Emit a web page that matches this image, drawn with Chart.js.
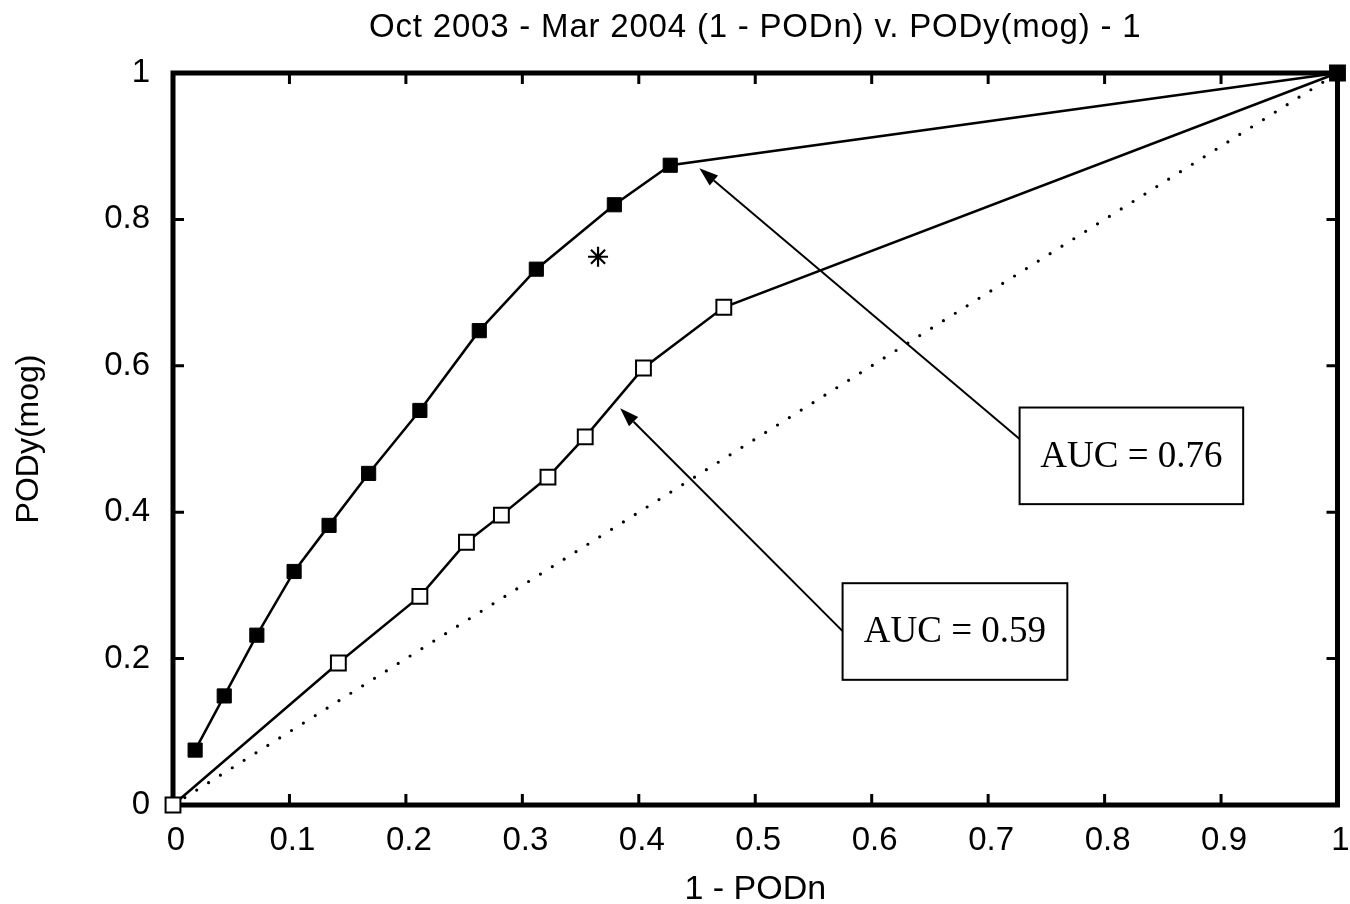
<!DOCTYPE html>
<html>
<head>
<meta charset="utf-8">
<script src="https://cdn.jsdelivr.net/npm/chart.js@4.4.1/dist/chart.umd.min.js"></script>
<style>
  body { margin: 0; background: #fff; }
</style>
</head>
<body>
<canvas id="rocChart" width="1350" height="904"></canvas>
<script>
// ROC points (x = 1 - PODn, y = PODy(mog))
var podnFilled = [0.019, 0.044, 0.072, 0.104, 0.134, 0.168, 0.212, 0.263, 0.312, 0.379, 0.427, 1]
var podyFilled = [0.075, 0.149, 0.232, 0.319, 0.382, 0.453, 0.539, 0.648, 0.732, 0.820, 0.874, 1]
var podnOpen = [0, 0.142, 0.212, 0.252, 0.282, 0.322, 0.354, 0.404, 0.473, 1]
var podyOpen = [0, 0.194, 0.285, 0.359, 0.396, 0.448, 0.503, 0.597, 0.680, 1]
var starX = [0.365]
var starY = [0.749]
var diagX = [0, 1]
var diagY = [0, 1]

var xTicks = [0, 0.1, 0.2, 0.3, 0.4, 0.5, 0.6, 0.7, 0.8, 0.9, 1]
var xTickLabels = ['0', '0.1', '0.2', '0.3', '0.4', '0.5', '0.6', '0.7', '0.8', '0.9', '1']
var yTicks = [0, 0.2, 0.4, 0.6, 0.8, 1]
var yTickLabels = ['0', '0.2', '0.4', '0.6', '0.8', '1']

var chartTitle = 'Oct 2003 - Mar 2004 (1 - PODn) v. PODy(mog) - 1'
var xTitle = '1 - PODn'
var yTitle = 'PODy(mog)'
var aucText = ['AUC = 0.76', 'AUC = 0.59']

function pairs(xs, ys) {
    return xs.map((x, i) => ({ x: x, y: ys[i] }))
}

// annotation boxes + arrows, all in data units
var notes = [
    { text: aucText[0], box: [0.727, 0.543, 0.919, 0.411], from: [0.727, 0.500], to: [0.452, 0.870] },
    { text: aucText[1], box: [0.575, 0.303, 0.768, 0.171], from: [0.575, 0.2375], to: [0.384, 0.542] }
]

var sansFont = 'Liberation Sans'

var framePlugin = {
    id: 'frame',
    beforeDraw(chart) {
        var ctx = chart.ctx, a = chart.chartArea
        ctx.save()
        ctx.fillStyle = '#000'
        ctx.font = '33px "' + sansFont + '"'
        ctx.letterSpacing = '0.8px'
        ctx.textAlign = 'center'
        ctx.textBaseline = 'middle'
        ctx.fillText(chartTitle, (a.left + a.right) / 2, 28)
        ctx.restore()
    },
    beforeDatasetsDraw(chart) {
        var ctx = chart.ctx, a = chart.chartArea
        var xs = chart.scales.x, ys = chart.scales.y
        ctx.save()
        ctx.strokeStyle = '#000'
        ctx.lineWidth = 3
        ctx.beginPath()
        xTicks.forEach(v => {
            var px = xs.getPixelForValue(v)
            ctx.moveTo(px, a.bottom); ctx.lineTo(px, a.bottom - 11)
            ctx.moveTo(px, a.top); ctx.lineTo(px, a.top + 11)
        })
        yTicks.forEach(v => {
            var py = ys.getPixelForValue(v)
            ctx.moveTo(a.left, py); ctx.lineTo(a.left + 11, py)
            ctx.moveTo(a.right, py); ctx.lineTo(a.right - 11, py)
        })
        ctx.stroke()
        ctx.lineWidth = 5
        ctx.strokeRect(a.left, a.top, a.right - a.left, a.bottom - a.top)
        ctx.restore()
    },
    afterDatasetsDraw(chart) {
        var ctx = chart.ctx
        var xs = chart.scales.x, ys = chart.scales.y
        ctx.save()
        notes.forEach(n => {
            var x1 = xs.getPixelForValue(n.from[0]), y1 = ys.getPixelForValue(n.from[1])
            var x2 = xs.getPixelForValue(n.to[0]), y2 = ys.getPixelForValue(n.to[1])
            var ang = Math.atan2(y2 - y1, x2 - x1)
            var headLen = 19, headW = 6.5
            var bx = x2 - headLen * Math.cos(ang), by = y2 - headLen * Math.sin(ang)
            ctx.strokeStyle = '#000'
            ctx.lineWidth = 2
            ctx.beginPath()
            ctx.moveTo(x1, y1)
            ctx.lineTo(bx, by)
            ctx.stroke()
            ctx.fillStyle = '#000'
            ctx.beginPath()
            ctx.moveTo(x2, y2)
            ctx.lineTo(bx + headW * Math.sin(ang), by - headW * Math.cos(ang))
            ctx.lineTo(bx - headW * Math.sin(ang), by + headW * Math.cos(ang))
            ctx.closePath()
            ctx.fill()

            var l = xs.getPixelForValue(n.box[0]), t = ys.getPixelForValue(n.box[1])
            var r = xs.getPixelForValue(n.box[2]), b = ys.getPixelForValue(n.box[3])
            ctx.fillStyle = '#fff'
            ctx.fillRect(l, t, r - l, b - t)
            ctx.lineWidth = 2
            ctx.strokeRect(l, t, r - l, b - t)
            ctx.fillStyle = '#000'
            ctx.font = '37px "Liberation Serif"'
            ctx.textAlign = 'center'
            ctx.textBaseline = 'middle'
            ctx.fillText(n.text, (l + r) / 2, (t + b) / 2 + 1)
        })
        ctx.restore()
    }
}

var tickFont = { family: sansFont, size: 33, lineHeight: 1 }

var ctx = document.getElementById('rocChart').getContext('2d')
var rocChart = new Chart(ctx, {
    type: 'scatter',
    data: {
        datasets: [
            {
                label: 'filled',
                data: pairs(podnFilled, podyFilled),
                showLine: true,
                borderColor: '#000',
                borderWidth: 2.5,
                pointStyle: 'rect',
                pointRadius: 10,
                pointBackgroundColor: '#000',
                pointBorderColor: '#000',
                pointBorderWidth: 1,
                clip: false
            },
            {
                label: 'open',
                data: pairs(podnOpen, podyOpen),
                showLine: true,
                borderColor: '#000',
                borderWidth: 2.5,
                pointStyle: 'rect',
                pointRadius: 10.5,
                pointBackgroundColor: '#fff',
                pointBorderColor: '#000',
                pointBorderWidth: 2,
                clip: false
            },
            {
                label: 'star',
                data: pairs(starX, starY),
                pointStyle: 'star',
                pointRadius: 10,
                pointBorderColor: '#000',
                pointBorderWidth: 2.2,
                clip: false
            },
            {
                label: 'chance',
                data: pairs(diagX, diagY),
                showLine: true,
                borderColor: '#000',
                borderWidth: 3.2,
                borderDash: [0, 14],
                borderCapStyle: 'round',
                pointRadius: 0,
                clip: false
            }
        ]
    },
    options: {
        responsive: false,
        animation: false,
        devicePixelRatio: 1,
        layout: { padding: { top: 73, right: 12, bottom: 0, left: 0 } },
        plugins: {
            legend: { display: false },
            tooltip: { enabled: false },
            title: { display: false }
        },
        scales: {
            x: {
                type: 'linear',
                min: 0,
                max: 1,
                afterBuildTicks: s => { s.ticks = xTicks.map(v => ({ value: v })) },
                afterFit: s => { s.height = 99; s.paddingLeft = 0; s.paddingRight = 0 },
                ticks: {
                    callback: (v, i) => xTickLabels[i],
                    font: tickFont,
                    color: '#000',
                    padding: 19,
                    labelOffset: 3,
                    maxRotation: 0,
                    autoSkip: false
                },
                grid: { display: false, drawTicks: false },
                border: { display: false },
                title: { display: true, text: xTitle, color: '#000', font: { family: sansFont, size: 34, lineHeight: 1 }, padding: { top: 0, bottom: -3 } }
            },
            y: {
                type: 'linear',
                min: 0,
                max: 1,
                afterBuildTicks: s => { s.ticks = yTicks.map(v => ({ value: v })) },
                afterFit: s => { s.width = 173; s.paddingTop = 0; s.paddingBottom = 0 },
                ticks: {
                    callback: (v, i) => yTickLabels[i],
                    font: tickFont,
                    color: '#000',
                    padding: 23,
                    autoSkip: false
                },
                grid: { display: false, drawTicks: false },
                border: { display: false },
                title: { display: true, text: yTitle, color: '#000', font: { family: sansFont, size: 32, lineHeight: 1 }, padding: { top: 13.5, bottom: 0 } }
            }
        }
    },
    plugins: [framePlugin]
})
</script>
</body>
</html>
